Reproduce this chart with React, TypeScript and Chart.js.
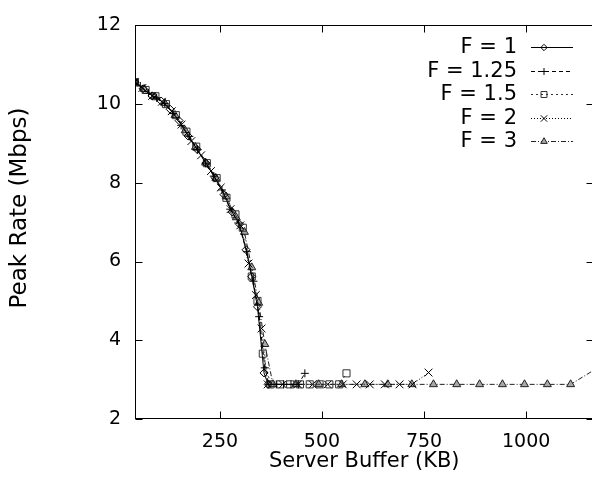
import React, { useEffect, useRef } from 'react';
import { Chart, registerables } from 'chart.js';
import { drawPoint } from 'chart.js/helpers';

Chart.register(...registerables);

// ---- data ----
const seriesLabels = ['F = 1', 'F = 1.25', 'F = 1.5', 'F = 2', 'F = 3'];

const f1X = [42, 62, 84, 106, 128, 150, 172, 194, 216, 238, 260, 280, 298, 314, 328, 342, 358, 368];
const f1Y = [10.56, 10.39, 10.21, 10.08, 9.87, 9.58, 9.19, 8.85, 8.5, 8.13, 7.7, 7.26, 6.95, 6.3, 5.62, 4.85, 3.17, 2.88];

const f125X = [42, 55, 75, 95, 115, 135, 155, 175, 195, 215, 235, 255, 275, 295, 316, 332, 346, 360, 370, 388, 406, 424, 442, 458];
const f125Y = [10.56, 10.46, 10.28, 10.16, 10.02, 9.76, 9.46, 9.18, 8.84, 8.5, 8.17, 7.82, 7.33, 6.98, 6.25, 5.5, 4.6, 3.3, 2.88, 2.88, 2.88, 2.88, 2.88, 3.16];

const f15X = [42, 68, 92, 118, 142, 168, 192, 218, 242, 266, 288, 306, 328, 342, 355, 374, 398, 422, 446, 470, 494, 518, 542, 560];
const f15Y = [10.56, 10.36, 10.2, 10.0, 9.72, 9.3, 8.92, 8.5, 8.12, 7.62, 7.2, 6.86, 5.62, 5.0, 3.66, 2.88, 2.88, 2.88, 2.88, 2.88, 2.88, 2.88, 2.88, 3.16];

const f2X = [42, 60, 84, 108, 132, 156, 180, 204, 228, 252, 276, 300, 320, 338, 352, 367, 404, 441, 477, 514, 551, 585, 617, 654, 690, 722, 761];
const f2Y = [10.56, 10.41, 10.21, 10.06, 9.82, 9.48, 9.06, 8.7, 8.3, 7.88, 7.33, 6.92, 5.95, 5.15, 4.3, 2.88, 2.88, 2.88, 2.88, 2.88, 2.88, 2.88, 2.88, 2.88, 2.88, 2.88, 3.18];

const f3X = [42, 65, 90, 115, 140, 165, 190, 215, 240, 265, 290, 310, 328, 345, 360, 380, 436, 492, 548, 605, 661, 720, 773, 830, 886, 942, 996, 1052, 1109, 1172];
const f3Y = [10.56, 10.38, 10.19, 10.02, 9.72, 9.33, 8.91, 8.51, 8.12, 7.65, 7.12, 6.75, 5.85, 4.95, 3.9, 2.88, 2.88, 2.88, 2.88, 2.88, 2.88, 2.88, 2.88, 2.88, 2.88, 2.88, 2.88, 2.88, 2.88, 3.28];

const xTickValues = [250, 500, 750, 1000];
const yTickValues = [2, 4, 6, 8, 10, 12];

const xTitle = 'Server Buffer (KB)';
const yTitle = 'Peak Rate (Mbps)';

const FONT = "'DejaVu Sans', 'Liberation Sans', Arial, sans-serif";

const toPoints = (xs: number[], ys: number[]) => xs.map((x, i) => ({ x, y: ys[i] }));

const styles = [
  { dash: [] as number[], point: 'rectRot', radius: 4, legendRadius: 3.2, fill: 'rgba(0,0,0,0)', color: '#000' },
  { dash: [4, 3], point: 'cross', radius: 4, legendRadius: 3.5, fill: 'rgba(0,0,0,0)', color: '#000' },
  { dash: [2, 3], point: 'rect', radius: 5, legendRadius: 4.2, fill: 'rgba(0,0,0,0)', color: '#333' },
  { dash: [1, 2], point: 'crossRot', radius: 5.5, legendRadius: 4.5, fill: 'rgba(0,0,0,0)', color: '#000' },
  { dash: [5, 2, 1, 2], point: 'triangle', radius: 4.6, legendRadius: 3.8, fill: '#a8a8a8', color: '#222' },
];

const allX = [f1X, f125X, f15X, f2X, f3X];
const allY = [f1Y, f125Y, f15Y, f2Y, f3Y];

const framePlugin = {
  id: 'gnuFrame',
  afterDatasetsDraw(chart: any) {
    const { ctx, chartArea: a, scales } = chart;
    ctx.save();
    ctx.strokeStyle = '#000';
    ctx.lineWidth = 1;
    ctx.setLineDash([]);
    const L = Math.round(a.left) + 0.5;
    const R = Math.round(a.right) - 0.5;
    const T = Math.round(a.top) + 0.5;
    const B = Math.round(a.bottom) - 0.5;
    ctx.strokeRect(L, T, R - L, B - T);
    const len = 7;
    ctx.beginPath();
    scales.x.ticks.forEach((t: any) => {
      const px = Math.round(scales.x.getPixelForValue(t.value)) + 0.5;
      ctx.moveTo(px, B); ctx.lineTo(px, B - len);
      ctx.moveTo(px, T); ctx.lineTo(px, T + len);
    });
    scales.y.ticks.forEach((t: any) => {
      const py = Math.round(scales.y.getPixelForValue(t.value)) + 0.5;
      ctx.moveTo(L, py); ctx.lineTo(L + len, py);
      ctx.moveTo(R, py); ctx.lineTo(R - len, py);
    });
    ctx.stroke();

    // y axis title (rotated)
    ctx.save();
    ctx.translate(20, 208);
    ctx.rotate(-Math.PI / 2);
    ctx.font = `23px ${FONT}`;
    ctx.fillStyle = '#000';
    ctx.textAlign = 'center';
    ctx.textBaseline = 'middle';
    ctx.fillText(yTitle, 0, 0);
    ctx.restore();

    // legend (gnuplot style: text right-aligned, sample line on the right)
    const textRight = 517;
    const lineStart = 531;
    const lineEnd = 573;
    const markX = 544;
    const rowY0 = 47;
    const rowStep = 23.5;
    ctx.font = `21px ${FONT}`;
    ctx.textAlign = 'right';
    ctx.textBaseline = 'middle';
    chart.data.datasets.forEach((ds: any, i: number) => {
      const y = Math.round(rowY0 + i * rowStep) + 0.5;
      ctx.fillStyle = '#000';
      ctx.fillText(ds.label, textRight, y);
      ctx.strokeStyle = ds.borderColor;
      ctx.lineWidth = 1;
      ctx.setLineDash(ds.borderDash || []);
      ctx.beginPath();
      ctx.moveTo(lineStart, y);
      ctx.lineTo(lineEnd, y);
      ctx.stroke();
      ctx.setLineDash([]);
      ctx.fillStyle = ds.pointBackgroundColor;
      ctx.strokeStyle = ds.pointBorderColor;
      drawPoint(ctx, { pointStyle: ds.pointStyle, radius: styles[i].legendRadius, rotation: 0, borderWidth: 1 }, markX, y);
    });
    ctx.restore();
  },
};

export default function App() {
  const canvasRef = useRef<HTMLCanvasElement | null>(null);

  useEffect(() => {
    document.body.style.margin = '0';
    const canvas = canvasRef.current;
    if (!canvas) return;
    const datasets = seriesLabels.map((label, i) => ({
      label,
      data: toPoints(allX[i], allY[i]),
      borderColor: styles[i].color,
      borderWidth: 1,
      borderDash: styles[i].dash,
      pointStyle: styles[i].point,
      pointRadius: styles[i].radius,
      pointBorderColor: styles[i].color,
      pointBackgroundColor: styles[i].fill,
      pointBorderWidth: 1,
      tension: 0,
      fill: false,
    }));
    const chart = new Chart(canvas, {
      type: 'line',
      data: { datasets },
      options: {
        animation: false,
        responsive: false,
        devicePixelRatio: 1,
        layout: { padding: { top: 16, right: 6, left: 0, bottom: 0 } },
        plugins: { legend: { display: false }, tooltip: { enabled: false } },
        scales: {
          x: {
            type: 'linear',
            min: 42,
            max: 1165,
            grid: { display: false, drawTicks: false },
            border: { display: false },
            afterBuildTicks: (scale: any) => {
              scale.ticks = xTickValues.map((v) => ({ value: v }));
            },
            afterFit: (scale: any) => {
              scale.height = 62;
            },
            ticks: {
              padding: 12,
              color: '#000',
              maxRotation: 0,
              autoSkip: false,
              font: { family: FONT, size: 19 },
              callback: (v: any) => String(v),
            },
            title: {
              display: true,
              text: xTitle,
              color: '#000',
              font: { family: FONT, size: 21 },
              padding: { top: 0, bottom: 7 },
            },
          },
          y: {
            type: 'linear',
            min: 2,
            max: 12,
            grid: { display: false, drawTicks: false },
            border: { display: false },
            afterBuildTicks: (scale: any) => {
              scale.ticks = yTickValues.map((v) => ({ value: v }));
            },
            afterFit: (scale: any) => {
              scale.width = 135;
            },
            ticks: {
              padding: 14,
              color: '#000',
              autoSkip: false,
              font: { family: FONT, size: 19 },
              callback: (v: any) => String(v),
            },
            title: { display: false },
          },
        },
      },
      plugins: [framePlugin],
    });
    return () => chart.destroy();
  }, []);

  return (
    <div style={{ position: 'fixed', left: 0, top: 0, width: 592, height: 481, overflow: 'hidden', background: '#fff' }}>
      <canvas ref={canvasRef} width={600} height={481} style={{ display: 'block' }} />
    </div>
  );
}
